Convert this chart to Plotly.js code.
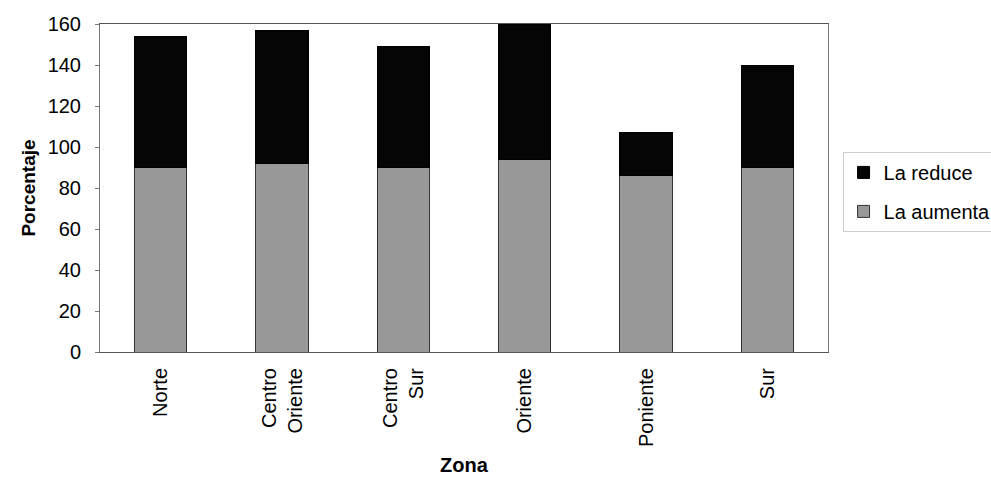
<!DOCTYPE html>
<html><head><meta charset="utf-8">
<script src="https://cdn.plot.ly/plotly-3.0.1.min.js"></script>
<style>html,body{margin:0;padding:0;background:#fff}</style>
</head><body>
<div id="chart" style="width:991px;height:486px"></div>
<script>
const categories = ["Norte", "Centro<br>Oriente", "Centro<br>Sur", "Oriente", "Poniente", "Sur"];
const aumenta = [90, 92, 90, 94, 86, 90];
const reduce = [64, 65, 59, 66, 21, 50];
const yTicks = [0, 20, 40, 60, 80, 100, 120, 140, 160];

const font = "Liberation Sans, Arial, sans-serif";
const data = [
  {type: "bar", name: "La aumenta", x: categories, y: aumenta, legendgroup: "a", legendrank: 2,
   marker: {color: "#989898", line: {color: "#333", width: 1}}},
  {type: "bar", name: "La reduce", x: categories, y: reduce, legendgroup: "r", legendrank: 1,
   marker: {color: "#050505", line: {color: "#000", width: 1}}}
];
const layout = {
  width: 991, height: 486,
  margin: {l: 100, r: 163, t: 24, b: 134, autoexpand: false},
  barmode: "stack", bargap: 0.57,
  paper_bgcolor: "#fff", plot_bgcolor: "#fff",
  font: {family: font, size: 20, color: "#000"},
  xaxis: {
    tickangle: -90, showline: true, linecolor: "#555", linewidth: 1, mirror: true,
    ticks: "", tickfont: {size: 20}, ticklabelstandoff: 7,
    title: {text: "<b>Zona</b>", font: {size: 20}, standoff: 12}
  },
  yaxis: {
    range: [0, 160], tickvals: yTicks, showgrid: false, zeroline: false,
    showline: true, linecolor: "#777", linewidth: 1, mirror: true,
    ticks: "outside", ticklen: 4, tickcolor: "#777", tickfont: {size: 20}, ticklabelstandoff: 10,
    title: {text: "<b>Porcentaje</b>", font: {size: 19}, standoff: 6}
  },
  legend: {
    x: 1.02, y: 0.61, xanchor: "left", yanchor: "top",
    traceorder: "grouped", tracegroupgap: 10,
    bordercolor: "#ccc", borderwidth: 1, font: {size: 20},
    itemwidth: 30
  },
  showlegend: true
};
Plotly.newPlot("chart", data, layout, {displayModeBar: false, staticPlot: true});
</script>
</body></html>
